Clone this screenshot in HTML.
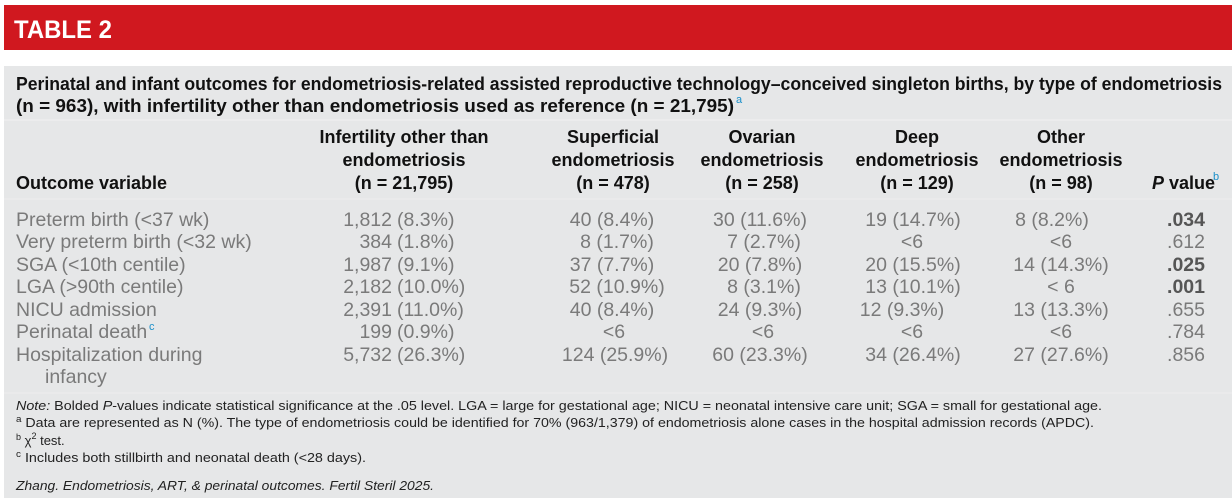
<!DOCTYPE html>
<html><head><meta charset="utf-8"><style>
html,body{margin:0;padding:0;background:#fff;width:1232px;height:502px;overflow:hidden}
svg{display:block}
text{font-family:"Liberation Sans",sans-serif}
.h{font-weight:bold;font-size:18px;fill:#111}
.d{font-size:19.5px;fill:#7a7a7a}
.p{font-size:19.5px;fill:#7a7a7a}
.b{font-weight:bold;fill:#555}
.f{font-size:13px;fill:#222}
.sup{font-size:11px;fill:#1a8fc9}
</style></head><body>
<svg width="1232" height="502" viewBox="0 0 1232 502">
<rect x="4" y="5" width="1228" height="45" fill="#d0181f"/>
<text x="14" y="38" font-size="25" font-weight="bold" fill="#fff" textLength="98" lengthAdjust="spacingAndGlyphs">TABLE 2</text>
<rect x="4" y="66" width="1228" height="432" fill="#e6e7e8"/>
<line x1="4" y1="120" x2="1232" y2="120" stroke="#f2f2f2" stroke-width="1"/>
<line x1="4" y1="199" x2="1232" y2="199" stroke="#eeeeee" stroke-width="1"/>
<line x1="4" y1="393" x2="1232" y2="393" stroke="#eeeeee" stroke-width="1"/>
<text class="h" x="16" y="90" textLength="1206" lengthAdjust="spacingAndGlyphs">Perinatal and infant outcomes for endometriosis-related assisted reproductive technology–conceived singleton births, by type of endometriosis</text>
<text class="h" x="16" y="112" textLength="718" lengthAdjust="spacingAndGlyphs">(n = 963), with infertility other than endometriosis used as reference (n = 21,795)</text>
<text class="sup" x="736" y="103">a</text>

<g class="h" text-anchor="middle">
<text x="404" y="143">Infertility other than</text>
<text x="404" y="166">endometriosis</text>
<text x="404" y="189">(n = 21,795)</text>
<text x="613" y="143">Superficial</text>
<text x="613" y="166">endometriosis</text>
<text x="613" y="189">(n = 478)</text>
<text x="762" y="143">Ovarian</text>
<text x="762" y="166">endometriosis</text>
<text x="762" y="189">(n = 258)</text>
<text x="917" y="143">Deep</text>
<text x="917" y="166">endometriosis</text>
<text x="917" y="189">(n = 129)</text>
<text x="1061" y="143">Other</text>
<text x="1061" y="166">endometriosis</text>
<text x="1061" y="189">(n = 98)</text>
</g>
<text class="h" x="16" y="189">Outcome variable</text>
<text class="h" x="1152" y="189"><tspan font-style="italic">P</tspan> value</text>
<text class="sup" x="1213" y="180">b</text>

<g class="d">
<text x="16" y="226">Preterm birth (&lt;37 wk)</text>
<text x="16" y="248">Very preterm birth (&lt;32 wk)</text>
<text x="16" y="271">SGA (&lt;10th centile)</text>
<text x="16" y="293">LGA (&gt;90th centile)</text>
<text x="16" y="316">NICU admission</text>
<text x="16" y="338">Perinatal death</text>
<text x="16" y="361">Hospitalization during</text>
<text x="45" y="383">infancy</text>
</g>
<text class="sup" x="149" y="330">c</text>

<g class="d" text-anchor="end">
<text x="392" y="226">1,812</text><text x="392" y="248">384</text><text x="392" y="271">1,987</text><text x="392" y="293">2,182</text><text x="392" y="316">2,391</text><text x="392" y="338">199</text><text x="392" y="361">5,732</text>
</g>
<g class="d">
<text x="397" y="226">(8.3%)</text><text x="397" y="248">(1.8%)</text><text x="397" y="271">(9.1%)</text><text x="397" y="293">(10.0%)</text><text x="397" y="316">(11.0%)</text><text x="397" y="338">(0.9%)</text><text x="397" y="361">(26.3%)</text>
</g>
<g class="d" text-anchor="middle">
<text x="612" y="226">40 (8.4%)</text><text x="617" y="248">8 (1.7%)</text><text x="612" y="271">37 (7.7%)</text><text x="617" y="293">52 (10.9%)</text><text x="612" y="316">40 (8.4%)</text><text x="614" y="338">&lt;6</text><text x="615" y="361">124 (25.9%)</text>
<text x="760" y="226">30 (11.6%)</text><text x="764" y="248">7 (2.7%)</text><text x="760" y="271">20 (7.8%)</text><text x="764" y="293">8 (3.1%)</text><text x="760" y="316">24 (9.3%)</text><text x="763" y="338">&lt;6</text><text x="760" y="361">60 (23.3%)</text>
<text x="913" y="226">19 (14.7%)</text><text x="912" y="248">&lt;6</text><text x="913" y="271">20 (15.5%)</text><text x="913" y="293">13 (10.1%)</text><text x="902" y="316">12 (9.3%)</text><text x="912" y="338">&lt;6</text><text x="913" y="361">34 (26.4%)</text>
<text x="1052" y="226">8 (8.2%)</text><text x="1061" y="248">&lt;6</text><text x="1061" y="271">14 (14.3%)</text><text x="1061" y="293">&lt; 6</text><text x="1061" y="316">13 (13.3%)</text><text x="1061" y="338">&lt;6</text><text x="1061" y="361">27 (27.6%)</text>
</g>
<g class="p" text-anchor="end">
<text x="1205" y="226" class="p b" font-weight="bold">.034</text>
<text x="1205" y="248">.612</text>
<text x="1205" y="271" class="p b" font-weight="bold">.025</text>
<text x="1205" y="293" class="p b" font-weight="bold">.001</text>
<text x="1205" y="316">.655</text>
<text x="1205" y="338">.784</text>
<text x="1205" y="361">.856</text>
</g>

<text class="f" x="16" y="410" textLength="1086" lengthAdjust="spacingAndGlyphs"><tspan font-style="italic">Note:</tspan> Bolded <tspan font-style="italic">P</tspan>-values indicate statistical significance at the .05 level. LGA = large for gestational age; NICU = neonatal intensive care unit; SGA = small for gestational age.</text>
<text class="f" x="16" y="427" textLength="1078" lengthAdjust="spacingAndGlyphs"><tspan font-size="9" dy="-5">a</tspan><tspan dy="5"> Data are represented as N (%). The type of endometriosis could be identified for 70% (963/1,379) of endometriosis alone cases in the hospital admission records (APDC).</tspan></text>
<text class="f" x="16" y="445"><tspan font-size="9" dy="-5">b</tspan><tspan dy="5"> χ</tspan><tspan font-size="9" dy="-6">2</tspan><tspan dy="6"> test.</tspan></text>
<text class="f" x="16" y="462" textLength="350" lengthAdjust="spacingAndGlyphs"><tspan font-size="9" dy="-5">c</tspan><tspan dy="5"> Includes both stillbirth and neonatal death (&lt;28 days).</tspan></text>
<text class="f" x="16" y="490" font-style="italic" textLength="418" lengthAdjust="spacingAndGlyphs">Zhang. Endometriosis, ART, &amp; perinatal outcomes. Fertil Steril 2025.</text>
</svg>
</body></html>
